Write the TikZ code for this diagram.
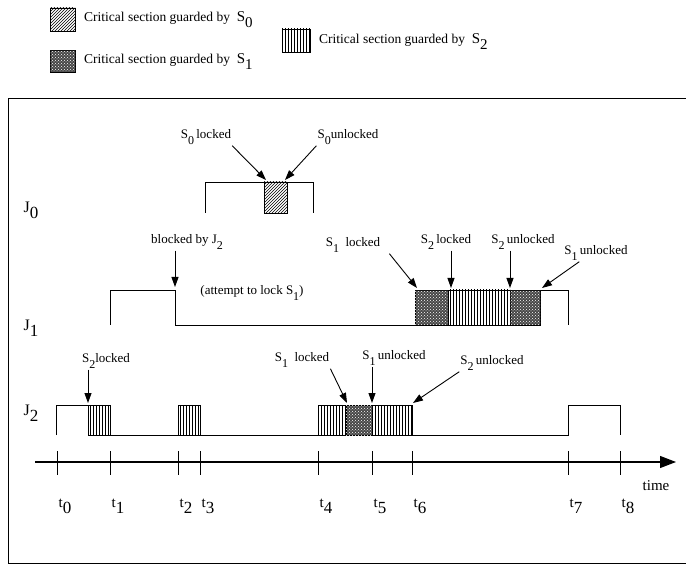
\documentclass[tikz,border=0pt]{standalone}
\usepackage{fontspec}
\setmainfont{Liberation Serif}
\usetikzlibrary{arrows.meta,patterns,positioning}
\tikzset{
  csS0/.style={draw, line width=0.8pt, pattern=north east lines},
  csS1/.style={draw, line width=0.8pt, fill=black!72, postaction={pattern=crosshatch dots, pattern color=white}},
  csS2/.style={draw, line width=0.8pt, pattern=vertical lines},
  wave/.style={line width=0.9pt},
  legtxt/.style={font=\fontsize{13.5}{15}\selectfont, anchor=west, inner sep=1pt},
  evlab/.style={font=\fontsize{13}{15}\selectfont, inner sep=1pt},
  evarr/.style={-{Triangle[length=10pt,width=7pt]}, line width=0.9pt},
  joblab/.style={font=\fontsize{16}{18}\selectfont, inner sep=1pt},
  tlabel/.style={font=\fontsize{15}{17}\selectfont, inner sep=1pt},
}
\newcommand{\Sub}[2]{#1\raisebox{-6pt}{\fontsize{12}{14}\selectfont #2}}
\newcommand{\BigSub}[2]{#1\raisebox{-6pt}{\fontsize{17}{19}\selectfont #2}}

\begin{document}
\begin{tikzpicture}[x=1pt,y=-1pt]
    \useasboundingbox (0,0) rectangle (686,572);
    % Legend
    \draw[csS0] (50,8) rectangle (75,31);
    \node[legtxt] (leg0) at (83,20) {Critical section guarded by\enspace\Sub{\fontsize{15}{17}\selectfont S}{\fontsize{15}{17}\selectfont 0}};
    \draw[csS1] (50,50) rectangle (75,72);
    \node[legtxt] (leg1) at (83,62) {Critical section guarded by\enspace\Sub{\fontsize{15}{17}\selectfont S}{\fontsize{15}{17}\selectfont 1}};
    \draw[csS2] (282,29) rectangle (310,52);
    \node[legtxt] (leg2) at (318,42) {Critical section guarded by\enspace\Sub{\fontsize{15}{17}\selectfont S}{\fontsize{15}{17}\selectfont 2}};
    % Frame
    \draw[line width=0.8pt] (686,98) -- (8,98) -- (8,563) -- (686,563);
    % Job labels
    \node[joblab] (J0) at (31,210) {\BigSub{J}{0}};
    \node[joblab] (J1) at (31,328) {\BigSub{J}{1}};
    \node[joblab] (J2) at (31,413) {\BigSub{J}{2}};
    % J0
    \draw[wave] (205,213) |- (313,182) -- (313,213);
    \draw[csS0] (264,182) rectangle (287,213);
    \coordinate (s0lk) at (266,180);
    \coordinate (s0uk) at (285,180);
    \node[evlab] (s0l) at (206,137) {\Sub{S}{0}\,locked};
    \node[evlab] (s0u) at (348,137) {\Sub{S}{0}unlocked};
    \draw[evarr] (s0l.south east) -- (s0lk);
    \draw[evarr] (s0u.south west) -- (s0uk);
    % J1
    \draw[wave] (110,325) |- (175,290) -- (175,325) -- (415,325) |- (568,290) -- (568,325);
    \draw[csS1] (415,290) rectangle (448,325);
    \draw[csS2] (448,290) rectangle (510,325);
    \draw[csS1] (510,290) rectangle (540,325);
    \coordinate (j1blk) at (175,287);
    \coordinate (s1lkA) at (417,288);
    \coordinate (s2lkA) at (451,288);
    \coordinate (s2ukA) at (510,288);
    \coordinate (s1ukA) at (542,288);
    \node[evlab] (blk) at (187,242) {blocked by \Sub{J}{2}};
    \node[evlab] (att) at (252,293) {(attempt to lock \Sub{S}{1})};
    \node[evlab] (s1lA) at (353,245) {\Sub{S}{1}\enspace locked};
    \node[evlab] (s2lA) at (446,242) {\Sub{S}{2}\,locked};
    \node[evlab] (s2uA) at (523,242) {\Sub{S}{2}\,unlocked};
    \node[evlab] (s1uA) at (596,253) {\Sub{S}{1}\,unlocked};
    \draw[evarr] (blk.south -| j1blk) -- (j1blk);
    \draw[evarr] ([xshift=8pt]s1lA.south east) -- (s1lkA);
    \draw[evarr] (s2lA.south -| s2lkA) -- (s2lkA);
    \draw[evarr] (s2uA.south -| s2ukA) -- (s2ukA);
    \draw[evarr] ([xshift=16pt]s1uA.south west) -- (s1ukA);
    % J2
    \draw[wave] (56,435) |- (88,405);
    \draw[wave] (110,435) -- (178,435);
    \draw[wave] (200,435) -- (318,435);
    \draw[wave] (412,435) -- (568,435) |- (620,405) -- (620,435);
    \draw[csS2] (88,405) rectangle (110,435);
    \draw[csS2] (178,405) rectangle (200,435);
    \draw[csS2] (318,405) rectangle (346,435);
    \draw[csS1] (346,405) rectangle (372,435);
    \draw[csS2] (372,405) rectangle (412,435);
    \coordinate (s2lkB) at (88,403);
    \coordinate (s1lkB) at (347,403);
    \coordinate (s1ukB) at (372,403);
    \coordinate (s2ukB) at (413,403);
    \node[evlab] (s2lB) at (106,361) {\Sub{S}{2}locked};
    \node[evlab] (s1lB) at (302,360) {\Sub{S}{1}\enspace locked};
    \node[evlab] (s1uB) at (394,358) {\Sub{S}{1}\,unlocked};
    \node[evlab] (s2uB) at (492,363) {\Sub{S}{2}\,unlocked};
    \draw[evarr] (s2lB.south -| s2lkB) -- (s2lkB);
    \draw[evarr] (s1lB.south east) -- (s1lkB);
    \draw[evarr] (s1uB.south -| s1ukB) -- (s1ukB);
    \draw[evarr] (s2uB.south west) -- (s2ukB);
    % Time axis
    \coordinate (ax0) at (35,462);
    \coordinate (ax1) at (676,462);
    \draw[line width=1.1pt, -{Triangle[length=16pt,width=12pt]}] (ax0) -- (ax1);
    \foreach \x/\n in {57/0,110/1,178/2,200/3,318/4,372/5,412/6,568/7,620/8} {
        \draw[line width=0.8pt] (\x,451) -- (\x,475);
        \node[tlabel] (t\n) at (\x+8,506) {\BigSub{t}{\n}};
    }
    \node[tlabel] (time) at (656,486) {time};
\end{tikzpicture}
\end{document}
